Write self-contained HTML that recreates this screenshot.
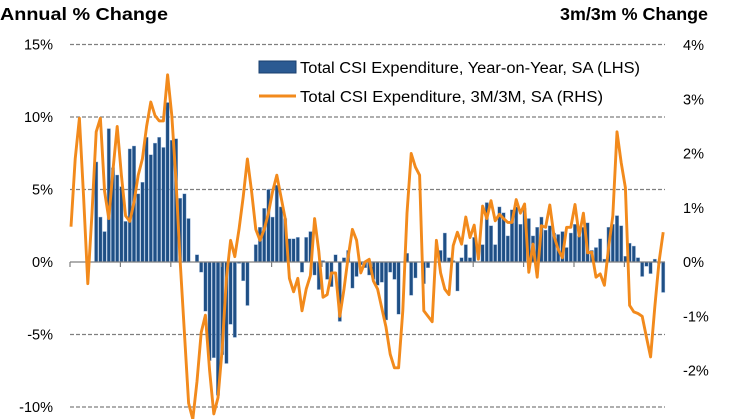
<!DOCTYPE html>
<html><head><meta charset="utf-8"><style>
html,body{margin:0;padding:0;background:#fff;}
svg{display:block;font-family:"Liberation Sans",Arial,sans-serif;}
</style></head><body>
<svg id="chart" width="746" height="419" viewBox="0 0 746 419" xmlns="http://www.w3.org/2000/svg">
<text x="0" y="20" font-size="17.5" font-weight="bold" fill="#000" textLength="168" lengthAdjust="spacingAndGlyphs">Annual % Change</text>
<text x="560" y="20" font-size="17.5" font-weight="bold" fill="#000" textLength="148" lengthAdjust="spacingAndGlyphs">3m/3m % Change</text>
<g id="grid"></g>
<g id="bars"></g>
<g id="xaxis"></g>
<g id="line"></g>
<g id="ylabels"></g>
<g>
<rect x="252" y="50" width="400" height="64" fill="#fff"/>
<rect x="259" y="61" width="37" height="12" fill="#2b5a92" stroke="#1a3f6e"/>
<text x="300" y="73" font-size="15.5" fill="#000" textLength="340" lengthAdjust="spacingAndGlyphs">Total CSI Expenditure, Year-on-Year, SA (LHS)</text>
<line x1="259" y1="96" x2="296" y2="96" stroke="#f28a1c" stroke-width="3"/>
<text x="300" y="102" font-size="15.5" fill="#000" textLength="303" lengthAdjust="spacingAndGlyphs">Total CSI Expenditure, 3M/3M, SA (RHS)</text>
</g>
</svg>
<script>
const leftTicks=[15,10,5,0,-5,-10];
const rightTicks=[4,3,2,1,0,-1,-2];
const yoyValues=[0,0,0,0,0,0,6.9,3.1,2.1,9.2,6.5,6.0,5.2,2.8,7.8,8.0,4.7,5.5,8.6,7.4,8.2,8.6,7.9,11.0,8.4,8.5,4.4,4.7,3.0,0,0.5,-0.7,-3.4,-6.8,-6.6,-9.2,-6.4,-7.0,-4.3,-5.2,-0.1,-1.3,-3.0,0,1.2,2.4,3.7,5.0,3.1,5.3,3.8,3.0,1.6,1.6,1.7,-0.7,1.7,2.1,-0.9,-1.9,0.1,-1.2,-1.7,0.5,-4.1,0.3,0.8,-1.8,-1.0,-0.2,-0.4,-0.9,-1.2,-1.6,-1.4,-4.0,-0.7,-1.2,-3.6,0,0.6,-2.3,-1.1,0,-1.5,-0.4,0,0,0.8,2.0,0.3,0.1,-2.0,0.3,1.2,0.3,1.7,0,1.2,4.1,2.5,1.2,3.8,3.4,1.8,3.6,3.8,2.6,3.7,3.0,1.8,2.4,3.1,2.2,2.5,2.0,1.9,2.1,1.0,2.0,2.6,1.8,2.4,2.7,0.8,1.0,1.6,0.2,2.4,2.6,3.2,2.5,0.4,1.3,1.1,0.3,-1.0,-0.3,-0.8,0.2,-0.1,-2.1];
const m3Values=[0.65,1.9,2.65,1.2,-0.4,0.9,2.4,2.65,1.3,0.8,1.7,2.5,1.6,0.85,0.75,1.1,1.6,1.9,2.5,2.95,2.7,2.6,2.6,3.45,2.7,1.5,0.0,-1.3,-2.6,-2.9,-2.2,-1.3,-0.98,-2.0,-2.8,-2.5,-1.6,-0.3,0.4,0.1,0.6,1.2,1.9,1.3,0.6,0.4,0.6,0.9,1.3,1.6,1.2,0.8,-0.3,-0.55,-0.3,-0.9,-0.5,-0.25,0.8,0.2,-0.65,-0.6,-0.2,-0.2,-1.0,-0.5,0.1,0.6,0.4,-0.2,0.0,0.05,-0.35,-0.5,-0.85,-1.2,-1.7,-1.95,-1.95,-0.9,0.9,2.0,1.75,1.6,-0.9,-1.0,-1.1,0.4,-0.2,-0.5,-0.6,0.3,0.55,0.33,0.83,0.45,0.68,0.05,1.03,0.8,1.13,0.76,0.88,0.8,0.73,0.73,1.15,0.9,1.07,-0.19,0.33,-0.28,0.67,0.64,1.05,0.48,0.23,0.08,0.64,0.64,1.06,0.48,0.9,0.17,0.18,-0.28,-0.22,-0.43,0.27,0.85,2.4,1.83,1.37,-0.8,-0.92,-0.95,-1.0,-1.38,-1.75,-0.83,0.0,0.55];
const NS="http://www.w3.org/2000/svg";
const X0=71,STEP=4.2,PL=70,PR=665;
function xs(i){return X0+STEP*i;}
function yL(v){return 262-v*14.5;}
function yR(v){return 262-v*54.25;}
function mk(t,a,p){const e=document.createElementNS(NS,t);for(const k in a)e.setAttribute(k,a[k]);p.appendChild(e);return e;}
const grid=document.getElementById('grid');
leftTicks.forEach(v=>{if(v===0)return;
 const l=mk('line',{x1:PL,x2:PR,y1:yL(v),y2:yL(v),stroke:'#7f7f7f','stroke-width':1.3,'stroke-dasharray':'4,2'},grid);
 
 
});
const yl=document.getElementById('ylabels');
leftTicks.forEach(v=>{
 const t=mk('text',{x:53,y:yL(v)+5,'font-size':14.5,'text-anchor':'end',fill:'#000'},yl);
 t.textContent=v+'%';
 
 
});
rightTicks.forEach(v=>{
 const t=mk('text',{x:683,y:yR(v)+5,'font-size':14.5,fill:'#000'},yl);
 t.textContent=v+'%';
 
 
});
const bars=document.getElementById('bars');
yoyValues.forEach((v,i)=>{if(v===0)return;
 const y0=yL(0),y1=yL(v);
 const r=mk('rect',{x:xs(i)-1.7,y:Math.min(y0,y1),width:3.4,height:Math.abs(y1-y0),fill:'#1f4f85',stroke:'#9cb8dc','stroke-width':0.4},bars);
 
 
});
const xa=document.getElementById('xaxis');
mk('line',{x1:PL,x2:PR,y1:262,y2:262,stroke:'#7f7f7f','stroke-width':1.3},xa);
for(let x=PL;x<=PR;x+=50.4){mk('line',{x1:x,x2:x,y1:262,y2:267,stroke:'#7f7f7f','stroke-width':1.2},xa);}
const line=document.getElementById('line');
const d=m3Values.map((v,i)=>(i?'L':'M')+xs(i).toFixed(1)+','+yR(v).toFixed(1)).join(' ');
const p=mk('path',{d:d,fill:'none',stroke:'#f28a1c','stroke-width':2.9,'stroke-linejoin':'round'},line);


</script>
</body></html>
